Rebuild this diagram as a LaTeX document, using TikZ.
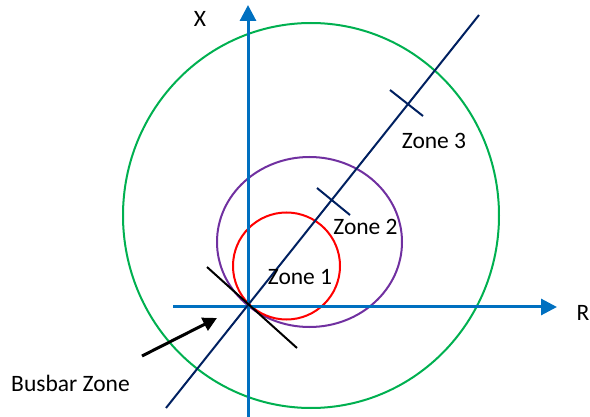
\documentclass[tikz,border=0pt]{standalone}
\usepackage{fontspec}
\setmainfont{Carlito}
\usepackage{tikz}
\usetikzlibrary{arrows.meta}
\definecolor{axisblue}{HTML}{0070C0}
\definecolor{navy}{HTML}{002060}
\definecolor{zonepurple}{HTML}{7030A0}
\definecolor{zonegreen}{HTML}{00B050}
\tikzset{
  axis/.style  = {axisblue, line width=1.5pt, -{Triangle[length=8pt, width=8pt]}},
  zone/.style  = {line width=1pt},
  char/.style  = {navy, line width=1pt},
  tick/.style  = {navy, line width=1pt},
  lbl/.style   = {font=\fontsize{11.75}{14}\selectfont, inner sep=0pt},
  point/.style = {black, line width=1.5pt, -{Triangle[length=7pt, width=7pt]}},
}

\begin{document}
\begin{tikzpicture}[x=0.5pt, y=-0.5pt]
    \useasboundingbox (0,0) rectangle (590,417);

    % zone boundaries
    \draw[zone, zonegreen]  (311,215.5) ellipse [x radius=94pt, y radius=96.25pt];
    \draw[zone, zonepurple] (309.5,242) ellipse [x radius=46.25pt, y radius=42.5pt];
    \draw[zone, red]        (286.5,266) circle [radius=26.75pt];

    % axes
    \coordinate (O) at (248,307);
    \coordinate (xlow) at (248,417);
    \coordinate (xtop) at (248,5);
    \coordinate (rlow) at (173,307);
    \coordinate (rtop) at (557,307);
    \draw[axis] (xlow) -- (xtop);
    \draw[axis] (rlow) -- (rtop);
    \node[lbl] (xlab) at (200,19) {X};
    \node[lbl] (rlab) at (583,312.5) {R};

    % line characteristic and reach marks
    \coordinate (c1) at (166,408);
    \coordinate (c2) at (479,15);
    \draw[char] (c1) -- (c2);
    \draw[tick] (390,90) -- (423,116);
    \draw[tick] (317,188) -- (350,215);
    \draw[black, line width=1pt] (207,267) -- (297,348);

    \node[lbl] (z1) at (300,277) {Zone 1};
    \node[lbl] (z2) at (365.5,226.5) {Zone 2};
    \node[lbl] (z3) at (434,141) {Zone 3};

    % busbar zone pointer
    \node[lbl] (bus) at (70.5,383.5) {Busbar Zone};
    \coordinate (btail) at (142,356);
    \coordinate (bhead) at (217,318);
    \draw[point] (btail) -- (bhead);
\end{tikzpicture}
\end{document}
